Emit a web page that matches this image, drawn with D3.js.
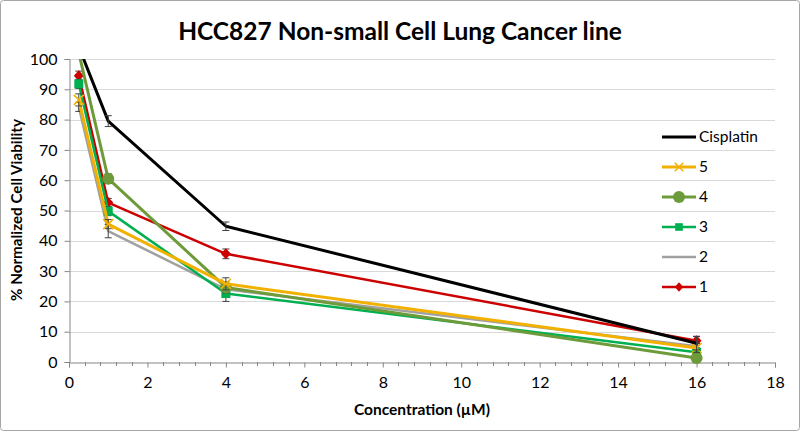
<!DOCTYPE html>
<html><head><meta charset="utf-8">
<script src="https://cdn.jsdelivr.net/npm/d3@7"></script>
<style>body{margin:0;background:#fff}svg{display:block;font-family:Lato,"Open Sans",sans-serif}</style>
</head><body><svg id="c" width="800" height="431"></svg>
<script>
const concentrations = [0.25, 1, 4, 16];
const seriesNames = ["Cisplatin", "5", "4", "3", "2", "1"];
const cisplatin = [104, 79.5, 44.8, 6.2];
const s5 = [86.5, 45.5, 25.8, 4.6];
const s4 = [102, 60.5, 24.6, 1.3];
const s3 = [91.8, 49.8, 22.6, 3.2];
const s2 = [84.2, 43.2, 24.0, 5.2];
const s1 = [94.5, 52.6, 35.7, 7.0];
const errCisplatin = [1.5, 1.8, 1.4, 2.2];
const err5 = [2.0, 1.5, 2.0, 1.5];
const err4 = [1.5, 1.6, 1.8, 1.5];
const err3 = [1.5, 1.5, 2.6, 1.5];
const err2 = [1.5, 2.2, 1.5, 1.5];
const err1 = [1.5, 1.4, 1.6, 1.5];
const xTicks = [0, 2, 4, 6, 8, 10, 12, 14, 16, 18];
const yTicks = [0, 10, 20, 30, 40, 50, 60, 70, 80, 90, 100];

const series = [
  {name: seriesNames[0], values: cisplatin, err: errCisplatin, color: "#000000", width: 3, marker: "none"},
  {name: seriesNames[1], values: s5, err: err5, color: "#F2B000", width: 3, marker: "x"},
  {name: seriesNames[2], values: s4, err: err4, color: "#6E9B3A", width: 3, marker: "circle"},
  {name: seriesNames[3], values: s3, err: err3, color: "#00B050", width: 2.5, marker: "square"},
  {name: seriesNames[4], values: s2, err: err2, color: "#A0A0A0", width: 2.5, marker: "none"},
  {name: seriesNames[5], values: s1, err: err1, color: "#CC0000", width: 2.5, marker: "diamond"}
];

const svg = d3.select("#c");
const L = 69, R = 775, T = 59, B = 362;
const x = d3.scaleLinear().domain([0, 18]).range([L, R]);
const y = d3.scaleLinear().domain([0, 100]).range([B, T]);

svg.append("rect").attr("x", 0.5).attr("y", 0.5).attr("width", 799).attr("height", 430)
  .attr("rx", 3).attr("fill", "#fff").attr("stroke", "#A6A6A6");

svg.append("text").attr("x", 400).attr("y", 40).attr("text-anchor", "middle")
  .attr("font-size", 24.5).attr("font-weight", "bold").attr("fill", "#000")
  .text("HCC827 Non-small Cell Lung Cancer line");

svg.append("g").selectAll("line").data(yTicks.filter(d => d > 0)).join("line")
  .attr("x1", L).attr("x2", R).attr("y1", d => Math.round(y(d)) + 0.5).attr("y2", d => Math.round(y(d)) + 0.5)
  .attr("stroke", "#D9D9D9").attr("stroke-width", 1);

const yAxis = svg.append("g").attr("transform", `translate(${L + 0.5},0)`)
  .call(d3.axisLeft(y).tickValues(yTicks).tickSize(5).tickPadding(7));
const xAxis = svg.append("g").attr("transform", `translate(0,${B + 0.5})`)
  .call(d3.axisBottom(x).tickValues(xTicks).tickSize(5).tickPadding(9));
const minor = d3.range(0, 18.001, 0.4).filter(v => Math.abs(v / 2 - Math.round(v / 2)) > 1e-6);
svg.append("g").selectAll("line").data(minor).join("line")
  .attr("x1", d => Math.round(x(d)) + 0.5).attr("x2", d => Math.round(x(d)) + 0.5)
  .attr("y1", B).attr("y2", B + 4).attr("stroke", "#868686");
[yAxis, xAxis].forEach(g => {
  g.select(".domain").attr("stroke", "#868686");
  g.selectAll(".tick line").attr("stroke", "#868686");
  g.selectAll(".tick text").attr("font-size", 16).attr("fill", "#000").attr("font-family", "Lato, sans-serif");
});

svg.append("text").attr("x", 422).attr("y", 415).attr("text-anchor", "middle")
  .attr("font-size", 15.5).attr("font-weight", "bold").text("Concentration (µM)");
svg.append("text").attr("transform", "translate(22,210) rotate(-90)").attr("text-anchor", "middle")
  .attr("font-size", 15.2).attr("font-weight", "bold").text("% Normalized Cell Viability");

svg.append("clipPath").attr("id", "clip").append("rect")
  .attr("x", L).attr("y", T).attr("width", R - L).attr("height", B - T + 8);
const plot = svg.append("g").attr("clip-path", "url(#clip)");

function drawMarker(g, type, color, cx, cy, scale) {
  const s = scale || 1;
  if (type === "circle") g.append("circle").attr("cx", cx).attr("cy", cy).attr("r", 6 * s).attr("fill", color);
  else if (type === "square") g.append("rect").attr("x", cx - 4.5 * s).attr("y", cy - 4.5 * s).attr("width", 9 * s).attr("height", 9 * s).attr("fill", color);
  else if (type === "diamond") g.append("path").attr("d", `M${cx},${cy - 5.5 * s}L${cx + 5 * s},${cy}L${cx},${cy + 5.5 * s}L${cx - 5 * s},${cy}Z`).attr("fill", color);
  else if (type === "x") g.append("path").attr("d", `M${cx - 5 * s},${cy - 5 * s}L${cx + 5 * s},${cy + 5 * s}M${cx - 5 * s},${cy + 5 * s}L${cx + 5 * s},${cy - 5 * s}`).attr("stroke", color).attr("stroke-width", 1.5);
}

const line = d3.line().x((d, i) => x(concentrations[i])).y(d => y(d));
const order = [5, 4, 3, 2, 1, 0];
order.forEach(k => {
  const s = series[k];
  const g = plot.append("g");
  g.append("path").attr("d", line(s.values)).attr("fill", "none")
    .attr("stroke", s.color).attr("stroke-width", s.width).attr("stroke-linejoin", "round");
  s.values.forEach((v, i) => {
    const cx = x(concentrations[i]);
    const e = s.err[i];
    g.append("path").attr("d", `M${cx},${y(v - e)}V${y(v + e)}M${cx - 3.5},${y(v - e)}H${cx + 3.5}M${cx - 3.5},${y(v + e)}H${cx + 3.5}`)
      .attr("stroke", "#404040").attr("stroke-width", 1).attr("fill", "none");
    drawMarker(g, s.marker, s.color, cx, y(v));
  });
});

const leg = svg.append("g");
series.forEach((s, i) => {
  const ly = 137 + i * 30;
  leg.append("line").attr("x1", 662).attr("x2", 696).attr("y1", ly).attr("y2", ly)
    .attr("stroke", s.color).attr("stroke-width", s.width);
  drawMarker(leg, s.marker, s.color, 679, ly, s.marker === "circle" ? 1 : 0.85);
  leg.append("text").attr("x", 699).attr("y", ly + 5).attr("font-size", 15.5).attr("fill", "#000").text(s.name);
});
</script></body></html>
